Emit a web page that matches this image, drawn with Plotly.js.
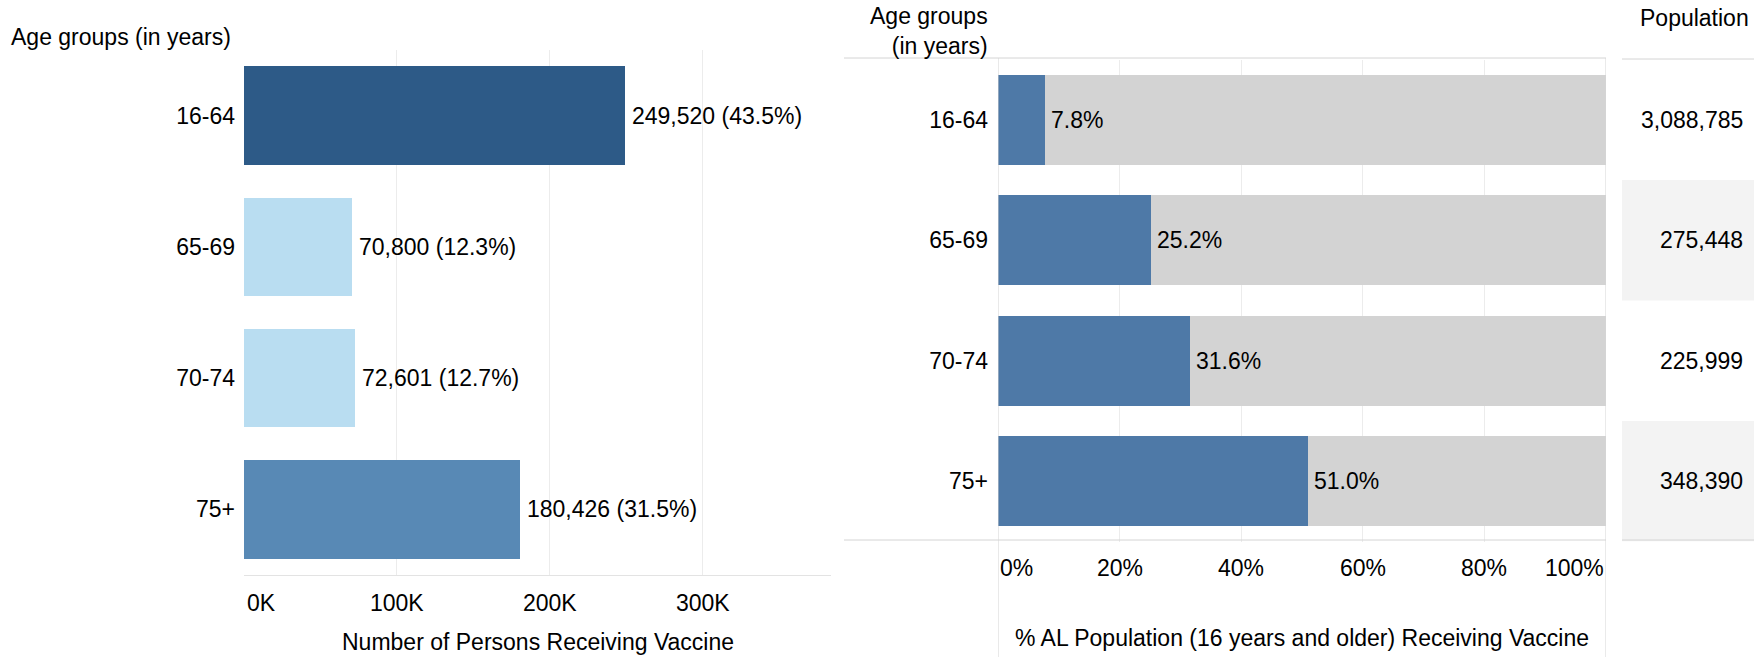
<!DOCTYPE html>
<html>
<head>
<meta charset="utf-8">
<script src="https://cdn.plot.ly/plotly-3.0.1.min.js"></script>
<style>html,body{margin:0;padding:0;background:#fff;}#chart{width:1761px;height:657px;}</style>
</head>
<body>
<div id="chart"></div>
<script>
// ---- data ----
const ageGroups = ['16-64', '65-69', '70-74', '75+'];
const personsVaccinated = [249520, 70800, 72601, 180426];
const personsShare = [43.5, 12.3, 12.7, 31.5];
const pctPopulationVaccinated = [7.8, 25.2, 31.6, 51.0];
const population = [3088785, 275448, 225999, 348390];
const leftTickVals = [0, 100000, 200000, 300000];
const leftTickText = ['0K', '100K', '200K', '300K'];
const rightTickVals = [0, 20, 40, 60, 80, 100];
const rightTickText = ['0%', '20%', '40%', '60%', '80%', '100%'];

// ---- styling ----
const W = 1761, H = 657;
const FONT = 'Arial, "Liberation Sans", sans-serif';
const FS = 23;
const TXT = '#000000';
const leftColors = ['#2d5a87', '#b9ddf1', '#b9ddf1', '#5889b5'];
const blue = '#4e79a7', grey = '#d3d3d3';
const lineCol = '#d4d4d4', gridCol = '#ececec';
const px = v => v / W;
const py = v => (H - v) / H;
const fmt = n => n.toLocaleString('en-US');

const traces = [
  {type: 'bar', orientation: 'h', x: personsVaccinated, y: ageGroups, xaxis: 'x', yaxis: 'y',
   marker: {color: leftColors}, hoverinfo: 'skip'},
  {type: 'bar', orientation: 'h', x: pctPopulationVaccinated, y: ageGroups, xaxis: 'x2', yaxis: 'y2',
   marker: {color: blue}, hoverinfo: 'skip'},
  {type: 'bar', orientation: 'h', x: pctPopulationVaccinated.map(p => 100 - p), y: ageGroups, xaxis: 'x2', yaxis: 'y2',
   marker: {color: grey}, hoverinfo: 'skip'}
];

const ann = [];
const t = (o) => Object.assign({showarrow: false, font: {family: FONT, size: FS, color: TXT}}, o);

ann.push(t({text: 'Age groups (in years)', xref: 'paper', yref: 'paper', x: px(9), y: py(37), xanchor: 'left', yanchor: 'middle'}));
ann.push(t({text: 'Age groups<br>(in years)', xref: 'paper', yref: 'paper', x: px(990), y: py(31.5), xanchor: 'right', yanchor: 'middle', align: 'right'}));
ann.push(t({text: 'Population', xref: 'paper', yref: 'paper', x: px(1751), y: py(18), xanchor: 'right', yanchor: 'middle'}));

ageGroups.forEach((g, i) => {
  ann.push(t({text: fmt(personsVaccinated[i]) + ' (' + personsShare[i].toFixed(1) + '%)', xref: 'x', yref: 'y',
    x: personsVaccinated[i], y: g, xanchor: 'left', yanchor: 'middle', xshift: 5}));
  ann.push(t({text: pctPopulationVaccinated[i].toFixed(1) + '%', xref: 'x2', yref: 'y2',
    x: pctPopulationVaccinated[i], y: g, xanchor: 'left', yanchor: 'middle', xshift: 4}));
  ann.push(t({text: fmt(population[i]), xref: 'paper', yref: 'y2',
    x: px(1745), y: g, xanchor: 'right', yanchor: 'middle'}));
});

leftTickVals.forEach((v, i) => {
  ann.push(t({text: leftTickText[i], xref: 'x', yref: 'paper', x: v, y: py(603),
    xanchor: i === 0 ? 'left' : 'center', yanchor: 'middle', xshift: i === 0 ? 1 : 0}));
});
rightTickVals.forEach((v, i) => {
  ann.push(t({text: rightTickText[i], xref: 'x2', yref: 'paper', x: v, y: py(568),
    xanchor: i === 0 ? 'left' : (i === rightTickVals.length - 1 ? 'right' : 'center'), yanchor: 'middle'}));
});

ann.push(t({text: 'Number of Persons Receiving Vaccine', xref: 'x domain', yref: 'paper', x: 0.5, y: py(642), xanchor: 'center', yanchor: 'middle'}));
ann.push(t({text: '% AL Population (16 years and older) Receiving Vaccine', xref: 'x2 domain', yref: 'paper', x: 0.5, y: py(638), xanchor: 'center', yanchor: 'middle'}));

const ln = (x0, x1, y0, y1, xref, yref) => ({type: 'line', xref: xref || 'paper', yref: yref || 'paper', x0, x1, y0, y1, line: {color: lineCol, width: 1}, layer: 'above'});
const shapes = [
  // shaded population cells
  {type: 'rect', xref: 'paper', yref: 'y2', x0: px(1622), x1: px(1754), y0: 0.5, y1: 1.5, fillcolor: '#f3f3f3', line: {width: 0}, layer: 'below'},
  {type: 'rect', xref: 'paper', yref: 'y2', x0: px(1622), x1: px(1754), y0: 2.5, y1: 3.5, fillcolor: '#f3f3f3', line: {width: 0}, layer: 'below'},
  ln(px(844), px(1606), py(58), py(58)),
  ln(px(844), px(1606), py(540), py(540)),
  ln(px(1622), px(1754), py(59), py(59)),
  ln(px(1622), px(1754), py(540), py(540)),
  ln(0, 0, 0, py(58), 'x2', 'paper'),
  ln(100, 100, 0, py(58), 'x2', 'paper')
];

const layout = {
  width: W, height: H,
  margin: {l: 0, r: 0, t: 0, b: 0},
  paper_bgcolor: '#ffffff', plot_bgcolor: 'rgba(0,0,0,0)',
  showlegend: false, barmode: 'stack', bargap: 0.25,
  font: {family: FONT, size: FS, color: TXT},
  xaxis: {domain: [px(244), px(831)], range: [0, 384000], tickmode: 'array', tickvals: leftTickVals,
    showticklabels: false, showgrid: true, gridcolor: gridCol, zeroline: false,
    showline: true, linecolor: '#e3e3e3', linewidth: 1, ticks: '', fixedrange: true},
  yaxis: {domain: [py(575), py(50)], type: 'category', categoryarray: ageGroups, range: [3.5, -0.5],
    showgrid: false, zeroline: false, showline: false, ticks: '', ticklabelstandoff: 8,
    tickfont: {family: FONT, size: FS, color: TXT}, fixedrange: true},
  xaxis2: {domain: [px(998), px(1606)], range: [0, 100], anchor: 'y2', tickmode: 'array', tickvals: [20, 40, 60, 80],
    showticklabels: false, showgrid: true, gridcolor: gridCol, zeroline: false, showline: false, ticks: '', fixedrange: true},
  yaxis2: {domain: [py(541.5), py(59.5)], anchor: 'x2', type: 'category', categoryarray: ageGroups, range: [3.5, -0.5],
    showgrid: false, zeroline: false, showline: false, ticks: '', ticklabelstandoff: 9,
    tickfont: {family: FONT, size: FS, color: TXT}, fixedrange: true},
  annotations: ann,
  shapes: shapes
};

Plotly.newPlot('chart', traces, layout, {displayModeBar: false, staticPlot: true});
</script>
</body>
</html>
